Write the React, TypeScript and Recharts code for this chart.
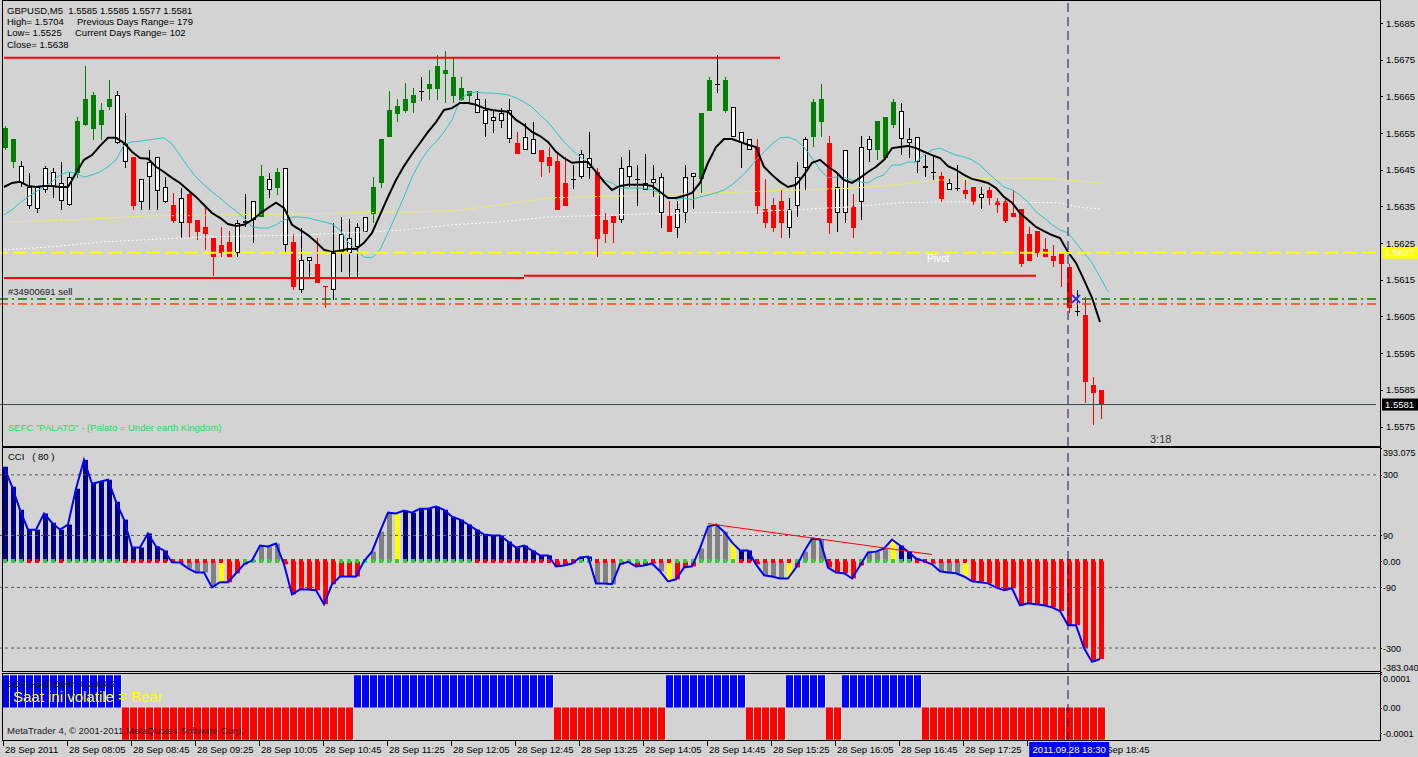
import React from 'react';
import {
  ComposedChart,
  Bar,
  Line,
  XAxis,
  YAxis,
  ReferenceLine,
  ReferenceDot,
} from 'recharts';

// GBPUSD M5, 28 Sep 2011, one bar every 5 minutes from 07:25
const candleOpen = [
  1.56509, 1.56471, 1.56414, 1.56351, 1.56343, 1.56395, 1.56403, 1.56365, 1.56354, 1.56441,
  1.56572, 1.56561, 1.56572, 1.56621, 1.56523, 1.56471, 1.56485, 1.56362, 1.5643, 1.56392,
  1.56362, 1.56354, 1.56305, 1.56384, 1.56313, 1.56294, 1.56264, 1.56245, 1.56253, 1.56223,
  1.56305, 1.56313, 1.56321, 1.56395, 1.564, 1.56245, 1.56253, 1.56123, 1.56202, 1.56193,
  1.56133, 1.56123, 1.56226, 1.56223, 1.5624, 1.56281, 1.5633, 1.56414, 1.56539, 1.56602,
  1.5661, 1.56632, 1.56665, 1.5667, 1.5667, 1.56711, 1.56651, 1.5664, 1.56651, 1.56605,
  1.56575, 1.56583, 1.56583, 1.56534, 1.56523, 1.56504, 1.56493, 1.56504, 1.56485, 1.56474,
  1.56414, 1.56425, 1.5643, 1.56455, 1.56444, 1.56313, 1.56324, 1.56313, 1.5643, 1.56425,
  1.56395, 1.56414, 1.56332, 1.56324, 1.56291, 1.56332, 1.5643, 1.56425, 1.5661, 1.56684,
  1.5661, 1.56539, 1.56523, 1.56504, 1.56512, 1.56343, 1.56354, 1.56365, 1.56291, 1.56351,
  1.56455, 1.56539, 1.5658, 1.56523, 1.56332, 1.56332, 1.56351, 1.56362, 1.56504, 1.56504,
  1.56482, 1.56572, 1.56534, 1.56523, 1.56471, 1.56455, 1.56444, 1.56433, 1.56395, 1.564,
  1.56395, 1.56403, 1.56373, 1.56395, 1.56365, 1.56365, 1.56332, 1.56343, 1.56275, 1.56283,
  1.56234, 1.56215, 1.56223, 1.56185, 1.56065, 1.56054, 1.55864, 1.5585,
];
const candleHigh = [
  1.56569, 1.56534, 1.56474, 1.56441, 1.56403, 1.5646, 1.56455, 1.56471, 1.56444, 1.56594,
  1.56733, 1.56662, 1.56632, 1.56695, 1.56665, 1.56605, 1.56485, 1.56425, 1.56504, 1.56485,
  1.5643, 1.56387, 1.564, 1.56387, 1.56313, 1.56354, 1.56264, 1.56294, 1.56283, 1.56313,
  1.56384, 1.56365, 1.56463, 1.56441, 1.56455, 1.56455, 1.56275, 1.56291, 1.56212, 1.56264,
  1.56133, 1.56305, 1.56321, 1.56316, 1.56305, 1.56321, 1.5643, 1.56534, 1.56665, 1.56643,
  1.56687, 1.56673, 1.56703, 1.56722, 1.56763, 1.56774, 1.56755, 1.56703, 1.56665, 1.56665,
  1.56643, 1.56613, 1.56618, 1.56643, 1.56553, 1.56578, 1.5658, 1.56504, 1.56512, 1.56496,
  1.56485, 1.56463, 1.56504, 1.56553, 1.56455, 1.56332, 1.56324, 1.56485, 1.56504, 1.56463,
  1.56493, 1.56463, 1.56441, 1.56365, 1.56365, 1.56463, 1.56441, 1.56605, 1.56703, 1.56763,
  1.56703, 1.56621, 1.56553, 1.56534, 1.56534, 1.56425, 1.56373, 1.56395, 1.56373, 1.56471,
  1.56539, 1.56643, 1.56684, 1.56542, 1.56441, 1.56504, 1.56384, 1.56542, 1.56542, 1.56583,
  1.56594, 1.56643, 1.56632, 1.56564, 1.56539, 1.5649, 1.5649, 1.56444, 1.56425, 1.56463,
  1.56422, 1.56403, 1.56403, 1.56403, 1.56373, 1.56373, 1.56395, 1.56343, 1.56294, 1.56283,
  1.56264, 1.56245, 1.56223, 1.56193, 1.56123, 1.56103, 1.55885, 1.5585,
];
const candleLow = [
  1.56504, 1.56455, 1.56403, 1.56343, 1.56332, 1.56387, 1.56373, 1.56341, 1.56351, 1.56428,
  1.56569, 1.56531, 1.56531, 1.56613, 1.5652, 1.56455, 1.56341, 1.56341, 1.56341, 1.56341,
  1.5636, 1.56305, 1.56264, 1.56264, 1.56259, 1.56232, 1.56161, 1.56212, 1.56212, 1.56212,
  1.56294, 1.56251, 1.56321, 1.56373, 1.56381, 1.56223, 1.56123, 1.56114, 1.56158, 1.56142,
  1.56073, 1.56095, 1.56172, 1.56158, 1.56158, 1.56281, 1.56305, 1.564, 1.56539, 1.5658,
  1.56605, 1.56605, 1.5664, 1.5664, 1.5664, 1.56632, 1.56632, 1.56637, 1.56632, 1.56605,
  1.56539, 1.5655, 1.56564, 1.56523, 1.56493, 1.56504, 1.56493, 1.5643, 1.56441, 1.56341,
  1.56351, 1.564, 1.56425, 1.56425, 1.56212, 1.56251, 1.56251, 1.56305, 1.56403, 1.56354,
  1.56395, 1.56376, 1.56291, 1.56281, 1.56264, 1.56305, 1.56343, 1.56387, 1.5661, 1.56662,
  1.56605, 1.56539, 1.56455, 1.56504, 1.5633, 1.56291, 1.56281, 1.56264, 1.56264, 1.56321,
  1.56395, 1.56512, 1.56539, 1.56275, 1.56281, 1.56305, 1.56264, 1.56313, 1.56471, 1.56477,
  1.56477, 1.56564, 1.5649, 1.56482, 1.56441, 1.5643, 1.56425, 1.56362, 1.56395, 1.56395,
  1.5637, 1.56354, 1.56343, 1.56354, 1.56332, 1.56305, 1.56321, 1.56185, 1.56202, 1.56212,
  1.56212, 1.56185, 1.56131, 1.5606, 1.56054, 1.55814, 1.55755, 1.5577,
];
const candleClose = [
  1.56564, 1.56534, 1.5646, 1.56403, 1.56403, 1.56455, 1.56444, 1.56414, 1.5643, 1.56583,
  1.56643, 1.56654, 1.56613, 1.56643, 1.56654, 1.56523, 1.56351, 1.56425, 1.56471, 1.56485,
  1.56403, 1.56311, 1.56373, 1.56305, 1.56281, 1.56275, 1.56212, 1.56223, 1.56212, 1.56305,
  1.56311, 1.56365, 1.56433, 1.56425, 1.56444, 1.56455, 1.56131, 1.56204, 1.56212, 1.56142,
  1.56131, 1.56223, 1.56275, 1.56264, 1.56294, 1.56321, 1.56403, 1.56534, 1.56613, 1.56624,
  1.56643, 1.56654, 1.56665, 1.56684, 1.56733, 1.56722, 1.56703, 1.56673, 1.56665, 1.56643,
  1.56613, 1.56594, 1.56605, 1.56613, 1.56493, 1.56539, 1.56534, 1.56471, 1.5646, 1.56341,
  1.56351, 1.56425, 1.56493, 1.56482, 1.56261, 1.56275, 1.56305, 1.56455, 1.5646, 1.56425,
  1.56414, 1.56425, 1.5643, 1.56281, 1.56343, 1.5643, 1.56441, 1.56605, 1.56695, 1.56684,
  1.56695, 1.56621, 1.56553, 1.56534, 1.56351, 1.56305, 1.56291, 1.56305, 1.56343, 1.5643,
  1.56534, 1.56635, 1.56643, 1.56305, 1.56403, 1.56504, 1.56291, 1.56512, 1.56534, 1.56583,
  1.56594, 1.56635, 1.5661, 1.56534, 1.56539, 1.5646, 1.56444, 1.5637, 1.56414, 1.564,
  1.56384, 1.56362, 1.56384, 1.56373, 1.56354, 1.56311, 1.56321, 1.56193, 1.56202, 1.56223,
  1.56212, 1.56202, 1.56193, 1.56073, 1.56065, 1.55872, 1.55842, 1.5581,
];
// candle painter state: G bull, R bear, W neutral, D doji
const candleSignal =
  'GGWWWWWWWG' + 'GGGGWWRWWW' + 'WRWRRRRRRW' + 'WWGWGWRWWR' + 'RWWWWWGGGG' +
  'GGDGGGGGGW' + 'WWWWRWWRRR' + 'RDWWRRRWWD' + 'WWWRWWWGGD' + 'GWWWRRRRWW' +
  'WGGRWWRWWG' + 'GGWWWWDRWD' + 'RRWRRRRRRR' + 'RRRRDRRR';

const maFast = [
  1.56403, 1.56414, 1.56417, 1.56406, 1.56403, 1.56406, 1.56406, 1.56403, 1.56403, 1.56441,
  1.56477, 1.5649, 1.56515, 1.56537, 1.56537, 1.56523, 1.56499, 1.56482, 1.5648, 1.56458,
  1.56444, 1.56428, 1.56414, 1.56395, 1.56376, 1.56354, 1.56332, 1.56319, 1.56302, 1.56297,
  1.563, 1.56313, 1.5633, 1.56346, 1.5636, 1.56346, 1.563, 1.56286, 1.56272, 1.56253,
  1.56232, 1.56226, 1.56229, 1.56234, 1.56234, 1.56251, 1.56278, 1.56327, 1.56376, 1.56422,
  1.5646, 1.56493, 1.56523, 1.56553, 1.5658, 1.56613, 1.56618, 1.56632, 1.56632, 1.56627,
  1.56618, 1.56613, 1.5661, 1.56608, 1.56586, 1.56572, 1.56553, 1.56542, 1.56526, 1.56499,
  1.56482, 1.56469, 1.56471, 1.56471, 1.56444, 1.56417, 1.56395, 1.56406, 1.56409, 1.56409,
  1.56409, 1.56406, 1.5639, 1.56373, 1.56373, 1.56379, 1.56387, 1.56414, 1.56469, 1.56512,
  1.56534, 1.56534, 1.56526, 1.56518, 1.56512, 1.56458, 1.56436, 1.56417, 1.56403, 1.56409,
  1.56436, 1.56469, 1.56477, 1.56458, 1.56444, 1.56422, 1.56414, 1.56428, 1.56444, 1.56458,
  1.56477, 1.56509, 1.56512, 1.56515, 1.56509, 1.56499, 1.5649, 1.56482, 1.5646, 1.5645,
  1.56436, 1.56425, 1.5642, 1.56414, 1.564, 1.56376, 1.5636, 1.56332, 1.56313, 1.56294,
  1.56283, 1.56272, 1.56264, 1.56226, 1.56196, 1.5615, 1.56101, 1.56035,
];
const maSlow = [
  1.56327, 1.56341, 1.5636, 1.56376, 1.5639, 1.56403, 1.56417, 1.56436, 1.56444, 1.56441,
  1.5643, 1.56436, 1.56444, 1.56458, 1.56477, 1.56518, 1.56526, 1.56528, 1.56531, 1.56534,
  1.56537, 1.5652, 1.5649, 1.56458, 1.5643, 1.56409, 1.5639, 1.56373, 1.56354, 1.56338,
  1.56319, 1.56294, 1.56291, 1.56291, 1.563, 1.56313, 1.56321, 1.56321, 1.56319, 1.56313,
  1.56308, 1.56302, 1.56286, 1.56253, 1.56232, 1.56212, 1.5621, 1.56232, 1.56278, 1.56327,
  1.56376, 1.5643, 1.56471, 1.56504, 1.56526, 1.56553, 1.56586, 1.5664, 1.56659, 1.56662,
  1.56659, 1.56659, 1.56657, 1.56654, 1.56646, 1.56635, 1.56621, 1.56599, 1.5658, 1.56553,
  1.56526, 1.56504, 1.56485, 1.56469, 1.56444, 1.56422, 1.56414, 1.564, 1.564, 1.564,
  1.564, 1.56395, 1.56387, 1.56376, 1.5637, 1.56373, 1.56368, 1.56376, 1.56381, 1.56387,
  1.56395, 1.56409, 1.56428, 1.5645, 1.56477, 1.56499, 1.5652, 1.56537, 1.56539, 1.56531,
  1.56512, 1.56482, 1.5645, 1.56428, 1.5643, 1.5643, 1.56422, 1.56417, 1.56414, 1.56428,
  1.56436, 1.56463, 1.56463, 1.56471, 1.56471, 1.5649, 1.56504, 1.56509, 1.56499, 1.5649,
  1.56485, 1.56477, 1.56463, 1.56441, 1.56422, 1.56403, 1.56395, 1.56381, 1.56362, 1.56335,
  1.56319, 1.563, 1.56286, 1.56278, 1.56251, 1.56223, 1.56196, 1.56158, 1.56117,
];
// slow averages read at a few bars
const yellowMaBars = [0, 8, 18, 37, 50, 56, 62, 68, 81, 93, 106, 110, 117, 125, 132, 137];
const yellowMaValues = [
  1.56308, 1.56313, 1.56324, 1.5633, 1.56335, 1.56338, 1.56354, 1.56373, 1.56381, 1.5639,
  1.564, 1.56406, 1.56422, 1.56428, 1.56425, 1.56414,
];
const whiteMaBars = [0, 6, 12, 25, 37, 50, 56, 62, 68, 81, 93, 106, 112, 117, 125, 132, 134, 137];
const whiteMaValues = [
  1.56232, 1.5624, 1.56253, 1.56267, 1.56272, 1.56286, 1.563, 1.56308, 1.56321, 1.5633,
  1.56335, 1.56349, 1.5636, 1.56362, 1.56362, 1.5636, 1.56349, 1.56343,
];

const cciValues = [
  328, 259, 179, 110, 110, 166, 134, 110, 128, 252,
  352, 269, 276, 283, 207, 145, 48, 48, 97, 52,
  38, -3, -4, -24, -38, -38, -90, -72, -72, -41,
  -10, 3, 55, 52, 62, -10, -114, -97, -97, -100,
  -148, -79, -52, -52, -52, 1, 34, 103, 169, 166,
  176, 169, 183, 183, 190, 179, 155, 145, 128, 110,
  93, 90, 90, 69, 48, 55, 38, 21, 21, -17,
  -14, -7, 14, 17, -76, -76, -79, -10, -1, -17,
  -14, -7, -34, -69, -62, -21, -17, 45, 121, 128,
  103, 66, 38, 38, -10, -48, -52, -59, -59, -21,
  34, 79, 76, -21, -38, -41, -59, -14, 31, 34,
  45, 76, 55, 34, 10, 1, -10, -34, -38, -41,
  -52, -69, -72, -76, -90, -100, -93, -152, -145, -148,
  -152, -159, -172, -221, -221, -300, -348, -338,
];
// N strong, G weak, Y turn, R down
const cciZone =
  'NNNNNNNNNN' + 'NNNNNNNNNN' + 'NRRGGGGYRR' + 'RNGGGRRRRR' + 'RRRRRGGGGY' +
  'NNNNNNNNNN' + 'NNNNNNNNNR' + 'RRNNGGGRRR' + 'RRGYRRRGGG' + 'GYNNRGGGYR' +
  'GGGRRRRRGG' + 'GYNNGGGGGG' + 'YRRRRRRRRR' + 'RRRRRRRR';
const cciTicks = [393.075, 300, 90, 0, -90, -300, -383.04];
const cciTrend = { fromBar: 88, fromValue: 131, toBar: 116, toValue: 24 };

// SEFC Bull-Bear: B up, S down
const bullBearState =
  'BBBBBBBBBBBBBBB' + 'SSSSSSSSSSSSSSSSSSSSSSSSSSSSS' + 'BBBBBBBBBBBBBBBBBBBBBBBBB' +
  'SSSSSSSSSSSSSS' + 'BBBBBBBBBB' + 'SSSSS' + 'BBBBB' + 'SS' + 'BBBBBBBBBB' +
  'SSSSSSSSSSSSSSSSSSSSSSS';
const bullBearLevel = 0.000125;

const timeTickBars = [0, 8, 16, 24, 32, 40, 48, 56, 64, 72, 80, 88, 96, 104, 112, 120, 128, 136];
const timeLabels = [
  '28 Sep 2011', '28 Sep 08:05', '28 Sep 08:45', '28 Sep 09:25', '28 Sep 10:05',
  '28 Sep 10:45', '28 Sep 11:25', '28 Sep 12:05', '28 Sep 12:45', '28 Sep 13:25',
  '28 Sep 14:05', '28 Sep 14:45', '28 Sep 15:25', '28 Sep 16:05', '28 Sep 16:45',
  '28 Sep 17:25', '28 Sep 18:05', '28 Sep 18:45',
];
const cursorBar = 133;
const cursorTime = '2011.09.28 18:30';

const priceTicks = [1.5575, 1.5585, 1.5595, 1.5605, 1.5615, 1.5625, 1.5635, 1.5645, 1.5655, 1.5665, 1.5675, 1.5685];
const resistanceLevel = 1.56755;
const supportLevelA = 1.56155;
const supportLevelB = 1.56161;
const pivotLevel = 1.56224;
const tradeLevel = 1.56098;
const stopLevel = 1.56084;
const bidPrice = 1.5581;
const tradeBar = 134;
const tradeLabel = '#34900691 sell';

const TOTAL_SLOTS = 172;
const BG = '#d3d3d3';
const FONT = '"Liberation Sans", Arial, sans-serif';

const rows = Array.from({ length: TOTAL_SLOTS }, (_, i) => {
  const has = i < candleOpen.length;
  const yi = yellowMaBars.indexOf(i);
  const wi = whiteMaBars.indexOf(i);
  return {
    i,
    o: has ? candleOpen[i] : null,
    h: has ? candleHigh[i] : null,
    l: has ? candleLow[i] : null,
    c: has ? candleClose[i] : null,
    sig: has ? candleSignal[i] : null,
    ma1: has ? maFast[i] : null,
    ma2: i < maSlow.length ? maSlow[i] : null,
    ma3: yi >= 0 ? yellowMaValues[yi] : null,
    ma4: wi >= 0 ? whiteMaValues[wi] : null,
    cci: has ? cciValues[i] : null,
    zone: has ? cciZone[i] : null,
    up: has ? (i === 0 || maFast[i] >= maFast[i - 1]) : null,
    bb: has ? (bullBearState[i] === 'B' ? bullBearLevel : -bullBearLevel) : null,
  };
});

const zoneColor: Record<string, string> = { N: '#000080', G: '#808080', Y: '#ffff00', R: '#ff0000' };

const Candle = (props: any) => {
  const { x, y, width, height, payload } = props;
  if (payload.o == null) return null;
  const { o, h, l, c, sig } = payload;
  const cx = Math.round(x + width / 2);
  const k = h > l ? height / (h - l) : 0;
  const at = (v: number) => y + (h - v) * k;
  const top = Math.round(at(Math.max(o, c)));
  const bot = Math.round(at(Math.min(o, c)));
  const wx = cx + 0.5;
  const y1 = Math.round(y);
  const y2 = Math.round(y + height);
  const col = sig === 'G' ? '#008000' : sig === 'R' ? '#ff0000' : '#000';
  if (sig === 'D' || bot - top < 1) {
    return (
      <g>
        <line x1={wx} x2={wx} y1={y1} y2={y2 + 1} stroke={col} />
        <line x1={cx - 2} x2={cx + 3} y1={top + 0.5} y2={top + 0.5} stroke={col} />
      </g>
    );
  }
  if (sig === 'W') {
    return (
      <g>
        <line x1={wx} x2={wx} y1={y1} y2={y2} stroke="#000" />
        <rect x={cx - 1.5} y={top + 0.5} width={4} height={Math.max(bot - top - 1, 1)} fill="#fff" stroke="#000" />
      </g>
    );
  }
  return (
    <g>
      <line x1={wx} x2={wx} y1={y1} y2={y2} stroke={col} />
      <rect x={cx - 2} y={top} width={5} height={bot - top} fill={col} />
    </g>
  );
};

const CciBar = (props: any) => {
  const { x, y, width, height, payload } = props;
  if (payload.cci == null) return null;
  const cx = Math.round(x + width / 2);
  const zero = payload.cci >= 0 ? y + height : y;
  return (
    <g>
      <rect x={cx - 2} y={y} width={5} height={Math.max(height, 0)} fill={zoneColor[payload.zone]} />
      <rect x={cx - 2} y={Math.round(zero) - 2} width={4} height={4} fill={payload.up ? '#32cd32' : '#ff0000'} />
    </g>
  );
};

const BullBearBar = (props: any) => {
  const { x, y, width, height, payload } = props;
  if (payload.bb == null) return null;
  const x0 = Math.round(x) + 2;
  return (
    <g>
      <rect x={x0} y={y} width={width - 1} height={height} fill={payload.bb > 0 ? '#0000ff' : '#ff0000'} />
      <rect x={x0 + width - 1} y={y} width={1} height={height} fill="#fff" />
    </g>
  );
};

const PriceTick = (props: any) => {
  const { x, y, payload } = props;
  return (
    <g>
      <line x1={x + 4} x2={x + 7} y1={Math.round(y) + 0.5} y2={Math.round(y) + 0.5} stroke="#000" />
      <text x={x + 10} y={y} dy={3.5} fontSize={9.5} fill="#000">{payload.value.toFixed(4)}</text>
    </g>
  );
};

const cciLabel = (v: number) => (v === 0 ? '0.00' : Number.isInteger(v) ? String(v) : v.toFixed(3));

const CciTick = (props: any) => {
  const { x, y, payload } = props;
  const v = payload.value;
  const dy = v === cciTicks[0] ? 8 : v === cciTicks[cciTicks.length - 1] ? -1 : 3.5;
  return (
    <g>
      <line x1={x + 4} x2={x + 6} y1={Math.round(y) + 0.5} y2={Math.round(y) + 0.5} stroke="#000" />
      <text x={x + 7} y={y} dy={dy} fontSize={9} fill="#000">{cciLabel(v)}</text>
    </g>
  );
};

const BullBearTick = (props: any) => {
  const { x, y, payload } = props;
  const v = payload.value;
  const label = v === 0 ? '0.00' : v > 0 ? '0.0001' : '-0.0001';
  const dy = v > 0.0001 ? 8 : 3.5;
  return (
    <g>
      <line x1={x + 4} x2={x + 6} y1={Math.round(y) + 0.5} y2={Math.round(y) + 0.5} stroke="#000" />
      <text x={x + 7} y={y} dy={dy} fontSize={9} fill="#000">{label}</text>
    </g>
  );
};

const TimeTick = (props: any) => {
  const { x, y, payload } = props;
  const label = timeLabels[timeTickBars.indexOf(payload.value)];
  return (
    <g>
      <line x1={x - 0.5} x2={x - 0.5} y1={y} y2={y + 5} stroke="#000" />
      <text x={x + 1} y={y + 12} fontSize={9.5} fill="#000">{label}</text>
    </g>
  );
};

const PriceTag = (props: any) => {
  const { viewBox, text, bg, fg } = props;
  const { x, y, width } = viewBox;
  return (
    <g>
      <rect x={x + width + 6} y={y - 6} width={38} height={12} fill={bg} />
      <text x={x + width + 9} y={y} dy={3.5} fontSize={9.5} fill={fg}>{text}</text>
    </g>
  );
};

const LineTitle = (props: any) => {
  const { viewBox, text } = props;
  return (
    <text x={viewBox.x + 8} y={viewBox.y - 4} fontSize={9.5} fill="#1a1a1a">{text}</text>
  );
};

const CursorLabel = (props: any) => {
  const { viewBox } = props;
  const { x, y, height } = viewBox;
  const top = y + height + 1;
  return (
    <g>
      <rect x={x - 41} y={top} width={80} height={15} fill="#0000ff" />
      <line x1={x - 0.5} x2={x - 0.5} y1={top} y2={top + 15} stroke="#6060ff" />
      <text x={x - 1} y={top + 11} textAnchor="middle" fontSize={9.5} fill="#fff">{cursorTime}</text>
    </g>
  );
};

const TradeCross = (props: any) => {
  const { cx, cy } = props;
  return (
    <g stroke="#2a2aff" strokeWidth={2}>
      <line x1={cx - 4} y1={cy - 4} x2={cx + 4} y2={cy + 4} />
      <line x1={cx - 4} y1={cy + 4} x2={cx + 4} y2={cy - 4} />
    </g>
  );
};

const cursorStroke = '#14145a';

export default function App() {
  return (
    <div style={{ position: 'absolute', left: 0, top: 0, width: 1418, height: 757, background: BG, fontFamily: FONT, overflow: 'hidden' }}>
      <div style={{ position: 'absolute', left: 0, top: 0 }}>
        <ComposedChart width={1418} height={447} data={rows} margin={{ top: 1, right: 0, bottom: 1, left: 0 }}>
          <XAxis dataKey="i" hide />
          <YAxis
            orientation="right"
            width={42}
            domain={[1.55697, 1.5691]}
            allowDataOverflow
            ticks={priceTicks}
            interval={0}
            axisLine={false}
            tickLine={false}
            tickSize={0}
            tickMargin={0}
            tick={<PriceTick />}
          />
          <Bar dataKey={(d: any) => (d.o == null ? null : [d.l, d.h])} barSize={5} shape={<Candle />} isAnimationActive={false} />
          <Line dataKey="ma3" stroke="#ffff00" strokeWidth={1} strokeDasharray="2 2" dot={false} connectNulls isAnimationActive={false} />
          <Line dataKey="ma4" stroke="#ffffff" strokeWidth={1} strokeDasharray="2 2" dot={false} connectNulls isAnimationActive={false} />
          <Line dataKey="ma2" stroke="#2ec4c4" strokeWidth={1} dot={false} isAnimationActive={false} />
          <Line dataKey="ma1" stroke="#000" strokeWidth={2} dot={false} isAnimationActive={false} />
          <ReferenceLine segment={[{ x: 0, y: resistanceLevel }, { x: 97, y: resistanceLevel }]} stroke="#ff0000" strokeWidth={2} />
          <ReferenceLine segment={[{ x: 0, y: supportLevelA }, { x: 65, y: supportLevelA }]} stroke="#ff0000" strokeWidth={2} />
          <ReferenceLine segment={[{ x: 65, y: supportLevelB }, { x: 129, y: supportLevelB }]} stroke="#ff0000" strokeWidth={2} />
          <ReferenceLine
            y={pivotLevel}
            stroke="#ffff00"
            strokeWidth={2}
            strokeDasharray="14 5"
            label={<PriceTag text={pivotLevel.toFixed(4)} bg="#ffff00" fg="#ffffff" />}
          />
          <ReferenceLine
            y={tradeLevel}
            stroke="#008000"
            strokeWidth={1.5}
            strokeDasharray="9 4 2 4"
            label={<LineTitle text={tradeLabel} />}
          />
          <ReferenceLine y={stopLevel} stroke="#ff4500" strokeWidth={1.5} strokeDasharray="9 4 2 4" />
          <ReferenceLine
            y={bidPrice}
            stroke="#2f4f4f"
            strokeWidth={1}
            label={<PriceTag text={bidPrice.toFixed(4)} bg="#000000" fg="#ffffff" />}
          />
          <ReferenceLine x={cursorBar} stroke={cursorStroke} strokeDasharray="9 5" />
          <ReferenceDot x={tradeBar} y={tradeLevel} r={4} shape={<TradeCross />} />
        </ComposedChart>
      </div>

      <div style={{ position: 'absolute', left: 0, top: 447 }}>
        <ComposedChart width={1418} height={226} data={rows} margin={{ top: 1, right: 0, bottom: 1, left: 0 }}>
          <XAxis dataKey="i" hide />
          <YAxis
            orientation="right"
            width={42}
            domain={[cciTicks[cciTicks.length - 1], cciTicks[0]]}
            allowDataOverflow
            ticks={cciTicks}
            interval={0}
            axisLine={false}
            tickLine={false}
            tickSize={0}
            tickMargin={0}
            tick={<CciTick />}
          />
          {[300, 90, -90, -300].map((v) => (
            <ReferenceLine key={v} y={v} stroke="#5a5a5a" strokeDasharray="3 3" />
          ))}
          <Bar
            dataKey={(d: any) => (d.cci == null ? null : [Math.min(0, d.cci), Math.max(0, d.cci)])}
            barSize={5}
            shape={<CciBar />}
            isAnimationActive={false}
          />
          <Line dataKey="cci" stroke="#0000ff" strokeWidth={2} dot={false} isAnimationActive={false} />
          <ReferenceLine
            segment={[{ x: cciTrend.fromBar, y: cciTrend.fromValue }, { x: cciTrend.toBar, y: cciTrend.toValue }]}
            stroke="#ff0000"
            strokeWidth={1}
          />
          <ReferenceLine x={cursorBar} stroke={cursorStroke} strokeDasharray="9 5" />
        </ComposedChart>
      </div>

      <div style={{ position: 'absolute', left: 0, top: 673 }}>
        <ComposedChart
          width={1418}
          height={84}
          data={rows}
          margin={{ top: 1, right: 0, bottom: 0, left: 0 }}
          barCategoryGap={0}
          barGap={0}
        >
          <XAxis
            dataKey="i"
            height={16}
            ticks={timeTickBars}
            interval={0}
            axisLine={false}
            tickLine={false}
            tickSize={0}
            tickMargin={0}
            tick={<TimeTick />}
          />
          <YAxis
            orientation="right"
            width={42}
            domain={[-0.00013, 0.00013]}
            allowDataOverflow
            ticks={[0.00013, 0, -0.0001]}
            interval={0}
            axisLine={false}
            tickLine={false}
            tickSize={0}
            tickMargin={0}
            tick={<BullBearTick />}
          />
          <Bar
            dataKey={(d: any) => (d.bb == null ? null : d.bb > 0 ? [0, d.bb] : [d.bb, 0])}
            shape={<BullBearBar />}
            isAnimationActive={false}
          />
          <ReferenceLine x={cursorBar} stroke={cursorStroke} strokeDasharray="9 5" />
        </ComposedChart>
      </div>

      {/* cursor time tag, layered above the time axis */}
      <div style={{ position: 'absolute', left: 0, top: 673 }}>
        <ComposedChart width={1418} height={84} data={rows} margin={{ top: 1, right: 0, bottom: 0, left: 0 }}>
          <XAxis dataKey="i" height={16} tick={false} axisLine={false} tickLine={false} />
          <YAxis
            orientation="right"
            width={42}
            domain={[-0.00013, 0.00013]}
            allowDataOverflow
            tick={false}
            axisLine={false}
            tickLine={false}
          />
          <Line dataKey="bb" stroke="none" dot={false} activeDot={false} isAnimationActive={false} />
          <ReferenceLine x={cursorBar} stroke="none" label={<CursorLabel />} />
        </ComposedChart>
      </div>

      <svg width={1418} height={757} style={{ position: 'absolute', left: 0, top: 0, pointerEvents: 'none' }}>
        <g fill="none" stroke="#000" strokeWidth={1}>
          <rect x={2.5} y={0.5} width={1378} height={446} />
          <rect x={2.5} y={447.5} width={1378} height={224} />
          <rect x={2.5} y={673.5} width={1378} height={67} />
        </g>
        <g fontSize={9.5} fill="#000" dominantBaseline="middle">
          <text x={7} y={11} style={{ whiteSpace: 'pre' }}>GBPUSD,M5  1.5585 1.5585 1.5577 1.5581</text>
          <text x={7} y={22}>High= 1.5704</text>
          <text x={77} y={22}>Previous Days Range= 179</text>
          <text x={7} y={33}>Low= 1.5525</text>
          <text x={75} y={33}>Current Days Range= 102</text>
          <text x={7} y={45}>Close= 1.5638</text>
          <text x={8} y={428} fill="#1fdc5c">SEFC "PALATO" - (Palato = Under earth Kingdom)</text>
          <text x={927} y={259} fill="#ffffff" fontSize={10}>Pivot</text>
          <text x={1150} y={440} fill="#3a3a3a" fontSize={11}>3:18</text>
          <text x={8} y={457} style={{ whiteSpace: 'pre' }}>CCI   ( 80 )</text>
          <text x={7} y={684} fill="#1a1a1a">SEFC-Bull-Bear -0.29985</text>
          <text x={13} y={698} fill="#ffff00" fontSize={15}>Saat ini volatile = Bear</text>
          <text x={7} y={731} fill="#1a1a1a">MetaTrader 4, © 2001-2011 MetaQuotes Software Corp.</text>
        </g>
      </svg>
    </div>
  );
}
